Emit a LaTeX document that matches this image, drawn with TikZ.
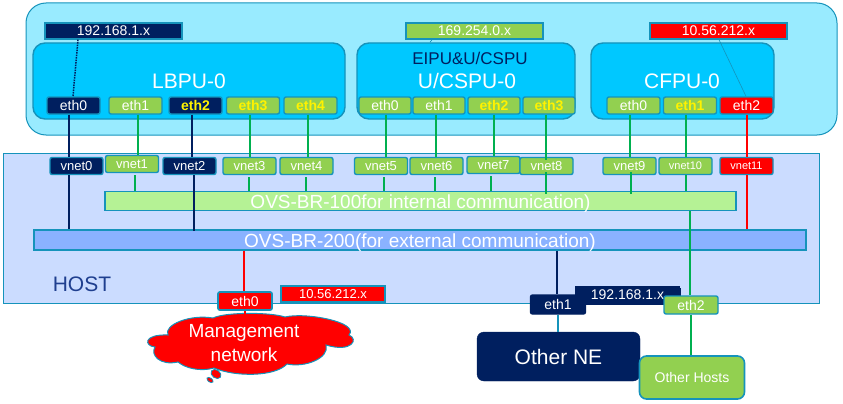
\documentclass[tikz,border=0pt]{standalone}
\usepackage{fontspec}
\setmainfont{Liberation Sans}
\usetikzlibrary{shapes.geometric}
\definecolor{vmback}{HTML}{99EBFF}
\definecolor{hostback}{HTML}{CBDCFF}
\definecolor{unitback}{HTML}{00C8FF}
\definecolor{edgeblue}{HTML}{1593BB}
\definecolor{navy}{HTML}{001F5F}
\definecolor{leaf}{HTML}{92D050}
\definecolor{linkgreen}{HTML}{00B050}
\definecolor{brint}{HTML}{B5F295}
\definecolor{brext}{HTML}{8AB2FF}
\definecolor{hosttext}{HTML}{1F3F8F}
\newcommand{\pxfont}[1]{\fontsize{#1}{#1}\selectfont}
\begin{document}
\begin{tikzpicture}[x=1pt,y=-1pt]
	\tikzstyle{port} = [draw=edgeblue, line width=1.4pt, rectangle, rounded corners=2pt, minimum width=53pt, minimum height=17pt, inner sep=0pt, text=white, font={\pxfont{14}}]
	\tikzstyle{greenport} = [port, fill=leaf]
	\tikzstyle{yellowport} = [port, fill=leaf, text=yellow, font={\pxfont{14}\bfseries}]
	\tikzstyle{navyport} = [port, fill=navy]
	\tikzstyle{redport} = [port, fill=red]
	\tikzstyle{vnetport} = [greenport, font={\pxfont{13}}]
	\tikzstyle{iptag} = [draw=edgeblue, line width=1.4pt, rectangle, minimum width=137pt, minimum height=16pt, inner sep=0pt, text=white, font={\pxfont{14}}]
	\tikzstyle{unit} = [draw=edgeblue, line width=1.4pt, fill=unitback, rectangle, rounded corners=12pt, minimum height=76pt, inner sep=0pt]
	\tikzstyle{unitname} = [inner sep=0pt, text=white, font={\pxfont{21}}]
	\tikzstyle{bridge} = [draw=edgeblue, line width=1.4pt, rectangle, inner sep=0pt, text=white, text height=14pt, text depth=0pt, font={\pxfont{19}}]
	\tikzstyle{greenlink} = [draw=linkgreen, line width=1.5pt]
	\tikzstyle{navylink} = [draw=navy, line width=1.5pt]
	\tikzstyle{redlink} = [draw=red, line width=1.5pt]
	\tikzstyle{bubble} = [ellipse, draw=edgeblue, line width=.8pt, fill=red, rotate=-35, inner sep=0pt]

	\useasboundingbox (0,0) rectangle (843,404);

	% frames
	\node[draw=edgeblue, line width=1pt, fill=vmback, rectangle, rounded corners=20pt, minimum width=811pt, minimum height=132pt] (vmframe) at (431.5,69) {};
	\node[draw=edgeblue, line width=1pt, fill=hostback, rectangle, minimum width=815.5pt, minimum height=149.5pt] (hostframe) at (411.25,228.25) {};
	\node[inner sep=0pt, text=hosttext, font={\pxfont{21}}] (hostname) at (82,284) {HOST};

	% units
	\node[unit, minimum width=312pt] (lbpu) at (189,81) {};
	\node[unit, minimum width=218pt] (cspu) at (466,81) {};
	\node[unit, minimum width=183pt] (cfpu) at (682.5,81) {};
	\node[unitname] (lbpuname) at (189,81) {LBPU-0};
	\node[unitname] (cspuname) at (467,81) {U/CSPU-0};
	\node[unitname] (cfpuname) at (682,81) {CFPU-0};
	\node[inner sep=0pt, text=navy, font={\pxfont{17}}] (cspusub) at (470,58) {EIPU\&U/CSPU};

	% address tags
	\node[iptag, fill=navy] (taglb) at (113.5,31) {192.168.1.x};
	\node[iptag, fill=leaf] (tagcs) at (474.5,31) {169.254.0.x};
	\node[iptag, fill=red] (tagcf) at (718.5,31) {10.56.212.x};

	% unit ports
	\node[navyport] (lbeth0) at (73.5,105.5) {eth0};
	\node[greenport] (lbeth1) [right of=lbeth0, node distance=62pt] {eth1};
	\node[navyport, text=yellow, font={\pxfont{14}\bfseries}] (lbeth2) [right of=lbeth1, node distance=60pt] {eth2};
	\node[yellowport] (lbeth3) [right of=lbeth2, node distance=57.5pt] {eth3};
	\node[yellowport] (lbeth4) [right of=lbeth3, node distance=57.5pt] {eth4};

	\node[greenport, minimum width=52pt] (cseth0) at (385,105.5) {eth0};
	\node[greenport, minimum width=52pt] (cseth1) [right of=cseth0, node distance=54pt] {eth1};
	\node[yellowport, minimum width=52pt] (cseth2) [right of=cseth1, node distance=55pt] {eth2};
	\node[yellowport, minimum width=52pt] (cseth3) [right of=cseth2, node distance=55pt] {eth3};

	\node[greenport] (cfeth0) at (633.5,105.5) {eth0};
	\node[yellowport] (cfeth1) [right of=cfeth0, node distance=56.5pt] {eth1};
	\node[redport] (cfeth2) [right of=cfeth1, node distance=56.5pt] {eth2};

	% vnets
	\node[navyport, font={\pxfont{13}}] (vnet0) at (76.5,166) {vnet0};
	\node[vnetport] (vnet1) [right of=vnet0, node distance=55.5pt, yshift=2pt] {vnet1};
	\node[navyport, font={\pxfont{13}}] (vnet2) [right of=vnet1, node distance=57.5pt, yshift=-2pt] {vnet2};
	\node[vnetport] (vnet3) [right of=vnet2, node distance=60pt] {vnet3};
	\node[vnetport] (vnet4) [right of=vnet3, node distance=57pt] {vnet4};
	\node[vnetport] (vnet5) [right of=vnet4, node distance=74.5pt] {vnet5};
	\node[vnetport] (vnet6) [right of=vnet5, node distance=55.5pt] {vnet6};
	\node[vnetport] (vnet7) [right of=vnet6, node distance=57pt, yshift=1pt] {vnet7};
	\node[vnetport] (vnet8) [right of=vnet7, node distance=53pt, yshift=-1pt] {vnet8};
	\node[vnetport] (vnet9) [right of=vnet8, node distance=83pt] {vnet9};
	\node[vnetport, font={\pxfont{11}}] (vnet10) [right of=vnet9, node distance=56pt] {vnet10};
	\node[redport, font={\pxfont{11}}] (vnet11) [right of=vnet10, node distance=61pt] {vnet11};

	% bridges
	\node[bridge, fill=brint, minimum width=631pt, minimum height=19pt] (brinternal) at (420.5,201) {OVS-BR-100for internal communication)};
	\node[bridge, fill=brext, minimum width=772pt, minimum height=20pt] (brexternal) at (420,240) {OVS-BR-200(for external communication)};

	% host side
	\node[iptag, fill=red, minimum width=104pt, font={\pxfont{13}}] (taghost) at (333,294) {10.56.212.x};
	\node[navyport, line width=0pt, draw=navy, minimum width=105pt, minimum height=18pt] (tagne) at (627.5,295) {192.168.1.x};
	\node[redport, line width=1.8pt, minimum width=54pt, minimum height=18pt] (hosteth0) at (245,301) {eth0};
	\node[navyport, draw=navy, minimum width=55pt, minimum height=19pt] (hosteth1) at (558,304.5) {eth1};
	\node[greenport, minimum width=54pt, minimum height=18pt] (hosteth2) at (691,305) {eth2};

	% outside
	\draw[draw=edgeblue, line width=1pt, fill=red] (168,335)
		.. controls (163,325) and (190,314) .. (213,318)
		.. controls (225,312) and (270,312) .. (285,317)
		.. controls (305,312) and (360,322) .. (349,335)
		.. controls (359,339) and (352,353) .. (326,345)
		.. controls (330,358) and (305,368) .. (287,364)
		.. controls (275,377) and (235,377) .. (214,368)
		.. controls (200,372) and (185,368) .. (178,362)
		.. controls (160,366) and (150,355) .. (155,347)
		.. controls (144,346) and (143,334) .. (168,335) -- cycle;
	\coordinate (cloudtop) at (245,316);
	\node[bubble, minimum width=11pt, minimum height=8pt] (bubblea) at (216,374) {};
	\node[bubble, minimum width=7pt, minimum height=4pt] (bubbleb) at (210,380) {};
	\node[align=center, inner sep=0pt, text=white, font={\fontsize{19}{24}\selectfont}] (mgmtname) at (244,343) {Management\\network};
	\node[draw=navy, fill=navy, rectangle, rounded corners=7pt, minimum width=163pt, minimum height=49pt, inner sep=0pt, text=white, font={\pxfont{21}}] (otherne) at (558.5,356.5) {Other NE};
	\node[draw=edgeblue, line width=1.6pt, fill=leaf, rectangle, rounded corners=7pt, minimum width=105pt, minimum height=43pt, inner sep=0pt, text=white, font={\pxfont{14}}] (otherhosts) at (692,377.5) {Other Hosts};

	% tag lines
	\draw[navylink, densely dotted] (78,0 |- taglb.south) -- (73,0 |- lbeth0.north);
	\draw[draw=edgeblue, line width=.6pt] (432,0 |- tagcs.south) -- (430,0 |- cspu.north);
	\draw[draw=edgeblue, line width=.6pt] (719,0 |- tagcf.south) -- (746,0 |- cfeth2.north);

	% port to vnet
	\draw[navylink] (69,0 |- lbeth0.south) -- (69,0 |- vnet0.north);
	\draw[greenlink] (138,0 |- lbeth1.south) -- (138,0 |- vnet1.north);
	\draw[navylink] (192,0 |- lbeth2.south) -- (192,0 |- vnet2.north);
	\draw[greenlink] (250,0 |- lbeth3.south) -- (250,0 |- vnet3.north);
	\draw[greenlink] (308,0 |- lbeth4.south) -- (308,0 |- vnet4.north);
	\draw[greenlink] (386,0 |- cseth0.south) -- (386,0 |- vnet5.north);
	\draw[greenlink] (436,0 |- cseth1.south) -- (436,0 |- vnet6.north);
	\draw[greenlink] (494,0 |- cseth2.south) -- (494,0 |- vnet7.north);
	\draw[greenlink] (546,0 |- cseth3.south) -- ([yshift=-3pt]546,0 |- vnet8.north);
	\draw[greenlink] (630,0 |- cfeth0.south) -- (630,0 |- vnet9.north);
	\draw[greenlink] (686,0 |- cfeth1.south) -- (686,0 |- vnet10.north);
	\draw[redlink] (747,0 |- cfeth2.south) -- (747,0 |- vnet11.north);

	% vnet to bridge
	\draw[navylink] (69,0 |- vnet0.south) -- (69,0 |- brexternal.north);
	\draw[greenlink] (135,0 |- vnet1.south) ++(0,2) -- (135,0 |- brinternal.north);
	\draw[navylink] (194,0 |- vnet2.south) -- ([yshift=-2pt]194,0 |- brexternal.north);
	\draw[greenlink] (249,0 |- vnet3.south) ++(0,2) -- (249,0 |- brinternal.north);
	\draw[greenlink] (306,0 |- vnet4.south) ++(0,2) -- (306,0 |- brinternal.north);
	\draw[greenlink] (384,0 |- vnet5.south) ++(0,2) -- (384,0 |- brinternal.north);
	\draw[greenlink] (435,0 |- vnet6.south) ++(0,2) -- (435,0 |- brinternal.north);
	\draw[greenlink] (491,0 |- vnet7.south) ++(0,2) -- (491,0 |- brinternal.north);
	\draw[greenlink] ([yshift=3pt]546,0 |- vnet8.south) -- ([yshift=-3pt]546,0 |- brinternal.north);
	\draw[greenlink] ([yshift=3pt]631,0 |- vnet9.south) -- ([yshift=-3pt]631,0 |- brinternal.north);
	\draw[greenlink] (686,0 |- vnet10.south) -- (686,0 |- brinternal.north);
	\draw[redlink] (747,0 |- vnet11.south) -- (747,0 |- brexternal.north);

	% bridge to outside
	\draw[greenlink] (690,0 |- brinternal.south) -- (690,0 |- hosteth2.north);
	\draw[greenlink] (691,0 |- hosteth2.south) -- (691,0 |- otherhosts.north);
	\draw[redlink] (244,0 |- brexternal.south) -- (244,0 |- hosteth0.north);
	\draw[redlink] (245,0 |- hosteth0.south) -- (cloudtop);
	\draw[navylink] (557,0 |- brexternal.south) -- (557,0 |- hosteth1.north);
	\draw[draw=edgeblue, line width=1.5pt] (558,0 |- hosteth1.south) -- (558,0 |- otherne.north);
\end{tikzpicture}
\end{document}
